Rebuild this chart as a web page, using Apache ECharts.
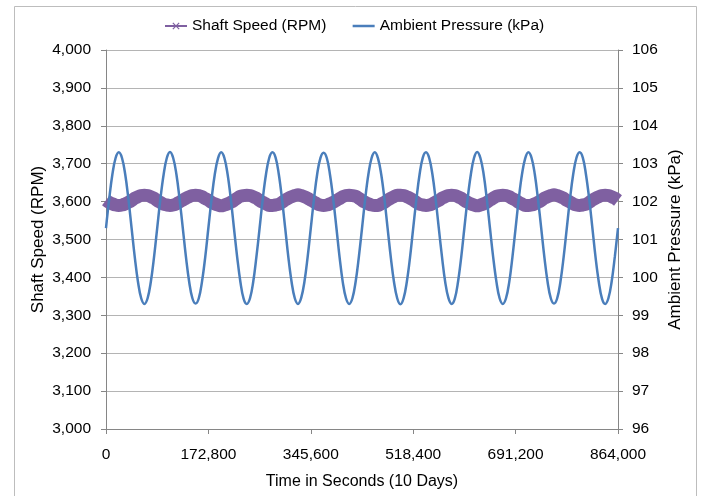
<!DOCTYPE html>
<html>
<head>
<meta charset="utf-8">
<script src="https://cdn.jsdelivr.net/npm/echarts@6/dist/echarts.min.js"></script>
<style>html,body{margin:0;padding:0;background:#fff;}#c{width:703px;height:496px;}</style>
</head>
<body>
<div id="c"></div>
<script>
// ---- data ----
const seriesNames = ['Shaft Speed (RPM)', 'Ambient Pressure (kPa)'];
const timeStepSeconds = 5400;           // sample spacing of the readings
const xTicks = [0, 172800, 345600, 518400, 691200, 864000];
const leftTicks = [3000, 3100, 3200, 3300, 3400, 3500, 3600, 3700, 3800, 3900, 4000];
const rightTicks = [96, 97, 98, 99, 100, 101, 102, 103, 104, 105, 106];

const shaftSpeed = [
  3604,3598,3594,3591,3590,3591,3594,3598,3603,3609,3613,3616,3617,3616,3613,3609,
  3603,3598,3593,3591,3590,3591,3594,3599,3604,3609,3613,3616,3617,3616,3613,3608,
  3604,3598,3594,3591,3589,3591,3594,3598,3603,3609,3614,3616,3617,3616,3613,3609,
  3603,3598,3594,3590,3590,3591,3593,3598,3604,3609,3613,3616,3618,3616,3613,3609,
  3604,3599,3594,3591,3590,3591,3594,3598,3603,3608,3613,3616,3617,3616,3614,3609,
  3603,3598,3594,3591,3590,3590,3594,3598,3604,3609,3613,3617,3617,3616,3613,3609,
  3604,3598,3593,3591,3590,3591,3594,3599,3603,3609,3613,3616,3617,3616,3613,3609,
  3603,3598,3594,3591,3589,3591,3594,3598,3604,3609,3614,3616,3617,3616,3613,3608,
  3604,3598,3594,3590,3590,3591,3594,3598,3603,3609,3613,3616,3618,3616,3613,3609,
  3603,3599,3594,3591,3590,3591,3593,3598,3604,3609,3613,3616,3617,3616,3613,3609,
  3603
];

const ambientPressure = [
  101.30,102.07,102.72,103.15,103.30,103.15,102.72,102.07,101.30,100.53,99.88,99.45,99.30,99.45,99.88,100.53,
  101.30,102.07,102.71,103.15,103.31,103.15,102.72,102.06,101.30,100.53,99.88,99.45,99.31,99.45,99.89,100.53,
  101.31,102.07,102.72,103.14,103.30,103.15,102.72,102.07,101.29,100.53,99.88,99.44,99.30,99.45,99.88,100.54,
  101.30,102.08,102.72,103.15,103.30,103.16,102.72,102.07,101.30,100.52,99.88,99.45,99.30,99.46,99.88,100.53,
  101.30,102.07,102.73,103.15,103.29,103.15,102.71,102.07,101.31,100.53,99.87,99.45,99.30,99.45,99.88,100.53,
  101.29,102.07,102.72,103.15,103.30,103.14,102.72,102.08,101.30,100.53,99.88,99.45,99.29,99.45,99.88,100.52,
  101.30,102.06,102.72,103.16,103.30,103.15,102.72,102.07,101.30,100.54,99.88,99.46,99.30,99.44,99.88,100.53,
  101.31,102.07,102.71,103.15,103.31,103.15,102.73,102.07,101.29,100.53,99.89,99.45,99.30,99.45,99.87,100.53,
  101.30,102.08,102.72,103.14,103.30,103.15,102.72,102.06,101.30,100.53,99.88,99.45,99.31,99.45,99.88,100.53,
  101.30,102.07,102.72,103.15,103.30,103.16,102.71,102.07,101.30,100.52,99.88,99.44,99.30,99.45,99.88,100.54,
  101.30
];

// ---- build ----
const shaftPairs = shaftSpeed.map((v, i) => [i * timeStepSeconds, v]);
const pressurePairs = ambientPressure.map((v, i) => [i * timeStepSeconds, v]);

const FONT = '"Liberation Sans", Arial, sans-serif';
const AX = '#868686';
const GRID = '#b4b4b4';
const PURPLE = '#7f60a1';
const BLUE = '#4a7ebb';
const xPath = 'path://M0,1.2 L1.2,0 L5,3.8 L8.8,0 L10,1.2 L6.2,5 L10,8.8 L8.8,10 L5,6.2 L1.2,10 L0,8.8 L3.8,5 Z';
const fmt = v => Number(v).toLocaleString('en-US');

const chart = echarts.init(document.getElementById('c'), null, {renderer: 'canvas'});
chart.setOption({
  animation: false,
  backgroundColor: '#fff',
  textStyle: {fontFamily: FONT, color: '#000'},
  graphic: [{
    type: 'rect', shape: {x: 14.5, y: 6.5, width: 682, height: 500}, silent: true,
    style: {fill: 'none', stroke: '#bdbdbd', lineWidth: 1}
  }],
  legend: {
    top: 13, left: 159,
    itemWidth: 22, itemHeight: 9, itemGap: 25,
    textStyle: {fontFamily: FONT, fontSize: 15.5, color: '#000'},
    data: [
      {name: seriesNames[0], lineStyle: {width: 2, color: PURPLE}, itemStyle: {color: PURPLE}},
      {name: seriesNames[1], lineStyle: {width: 2.5, color: BLUE}, itemStyle: {opacity: 0}}
    ]
  },
  grid: {left: 106, right: 85, top: 50, bottom: 67, containLabel: false},
  xAxis: {
    type: 'value', min: xTicks[0], max: xTicks[xTicks.length - 1], interval: xTicks[1] - xTicks[0],
    name: 'Time in Seconds (10 Days)', nameLocation: 'middle', nameGap: 45, nameMoveOverlap: false,
    nameTextStyle: {fontFamily: FONT, fontSize: 16, color: '#000'},
    axisLine: {show: true, lineStyle: {color: AX, width: 1}},
    axisTick: {show: true, inside: false, length: 5, lineStyle: {color: AX}},
    axisLabel: {margin: 18, fontFamily: FONT, fontSize: 15.5, color: '#000', formatter: fmt},
    splitLine: {show: false}
  },
  yAxis: [{
    type: 'value', position: 'left', min: leftTicks[0], max: leftTicks[leftTicks.length - 1],
    interval: leftTicks[1] - leftTicks[0],
    name: 'Shaft Speed (RPM)', nameLocation: 'middle', nameGap: 59, nameRotate: 90, nameMoveOverlap: false,
    nameTextStyle: {fontFamily: FONT, fontSize: 17, color: '#000'},
    axisLine: {show: true, lineStyle: {color: AX, width: 1}},
    axisTick: {show: true, inside: false, length: 5, lineStyle: {color: AX}},
    axisLabel: {margin: 15, fontFamily: FONT, fontSize: 15.5, color: '#000', formatter: fmt},
    splitLine: {show: true, lineStyle: {color: GRID, width: 1}}
  }, {
    type: 'value', position: 'right', min: rightTicks[0], max: rightTicks[rightTicks.length - 1],
    interval: rightTicks[1] - rightTicks[0],
    name: 'Ambient Pressure (kPa)', nameLocation: 'middle', nameGap: 49, nameRotate: 90, nameMoveOverlap: false,
    nameTextStyle: {fontFamily: FONT, fontSize: 17, color: '#000'},
    axisLine: {show: true, lineStyle: {color: AX, width: 1}},
    axisTick: {show: true, inside: false, length: 5, lineStyle: {color: AX}},
    axisLabel: {margin: 14, fontFamily: FONT, fontSize: 15.5, color: '#000'},
    splitLine: {show: false}
  }],
  series: [{
    name: seriesNames[0], type: 'line', yAxisIndex: 0, data: shaftPairs,
    smooth: 0.3, symbol: xPath, symbolSize: 8, showSymbol: false,
    itemStyle: {color: PURPLE}, lineStyle: {color: PURPLE, width: 13}, z: 2
  }, {
    name: seriesNames[1], type: 'line', yAxisIndex: 1, data: pressurePairs,
    smooth: 0.4, symbol: 'none',
    itemStyle: {color: BLUE}, lineStyle: {color: BLUE, width: 2.5}, z: 3
  }]
});
</script>
</body>
</html>
